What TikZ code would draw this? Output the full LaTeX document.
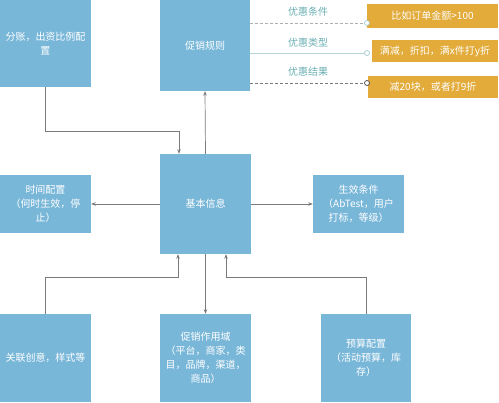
\documentclass[tikz,border=0pt]{standalone}
\usepackage{fontspec}
\setmainfont{Noto Sans CJK SC}
\usetikzlibrary{arrows.meta,calc}
\definecolor{boxblue}{HTML}{79B7D9}
\definecolor{boxorange}{HTML}{E2AB3A}
\definecolor{tagteal}{HTML}{6AAEB2}
\definecolor{linegray}{HTML}{7A7A7A}
\tikzset{
	bluebox/.style={fill=boxblue, text=white, font=\fontsize{10}{14}\selectfont, align=center, inner sep=0pt},
	orangebox/.style={fill=boxorange, text=white, font=\fontsize{10}{12}\selectfont, inner sep=0pt},
	tag/.style={text=tagteal, font=\fontsize{10}{12}\selectfont},
	link/.style={draw=linegray, line width=0.7pt, -{Stealth[length=4.5pt,width=3.5pt]}},
	dot/.style={circle, draw=#1, fill=white, line width=0.7pt, inner sep=0pt, minimum size=5pt}
}
\begin{document}
\begin{tikzpicture}[x=1pt, y=-1pt]
	\useasboundingbox (0,0) rectangle (499,403);
	
	\node[bluebox, minimum width=91pt, minimum height=87pt] (fenzhang) at (45.5,43.5) {分账，出资比例配\\置};
	\node[bluebox, minimum width=90pt, minimum height=91pt] (guize) at (205,45.5) {促销规则};
	\node[bluebox, minimum width=91pt, minimum height=100pt] (jiben) at (205.5,204) {基本信息};
	\node[bluebox, minimum width=91pt, minimum height=58pt] (shijian) at (45.5,204) {时间配置\\（何时生效，停\\止）};
	\node[bluebox, minimum width=91pt, minimum height=58pt] (shengxiao) at (358.5,204) {生效条件\\（AbTest，用户\\打标，等级）};
	\node[bluebox, minimum width=91pt, minimum height=88pt] (guanlian) at (45.5,358) {关联创意，样式等};
	\node[bluebox, minimum width=91pt, minimum height=88pt] (zuoyong) at (205.5,358) {促销作用域\\（平台，商家，类\\目，品牌，渠道，\\商品）};
	\node[bluebox, minimum width=90pt, minimum height=88pt] (yusuan) at (366,358) {预算配置\\（活动预算，库\\存）};
	
	\node[orangebox, minimum width=131pt, minimum height=24pt] (tiaojian) at (432.5,16) {比如订单金额>100};
	\node[orangebox, minimum width=126pt, minimum height=22pt] (leixing) at (435,51) {满减，折扣，满x件打y折};
	\node[orangebox, minimum width=130pt, minimum height=22pt] (jieguo) at (433,87) {减20块，或者打9折};
	
	\coordinate (c1) at (367,23);
	\coordinate (c2) at (367,53);
	\coordinate (c3) at (367,83);
	\draw[draw=linegray!60, line width=0.7pt, dash pattern=on 3pt off 2pt] (guize.east |- c1) -- (c1);
	\draw[draw=tagteal!50, line width=0.7pt] (guize.east |- c2) -- (c2);
	\draw[draw=linegray, line width=0.7pt, dash pattern=on 3pt off 2pt] (guize.east |- c3) -- (c3);
	\node[dot=tagteal!60] (d1) at (c1) {};
	\node[dot=tagteal!60] (d2) at (c2) {};
	\node[dot=black!70] (d3) at (c3) {};
	\node[tag] (t1) at (308,12) {优惠条件};
	\node[tag] (t2) at (308,43) {优惠类型};
	\node[tag] (t3) at (308,72) {优惠结果};
	
	\coordinate (b1) at (179,131);
	\coordinate (b2) at (178,277);
	\coordinate (b3) at (226,277);
	\draw[link] (fenzhang.south) |- (b1) -- (b1 |- jiben.north);
	\draw[link] (jiben.north) -- (guize.south);
	\draw[link] (jiben.west) -- (shijian.east);
	\draw[link] (jiben.east) -- (shengxiao.west);
	\draw[link] (jiben.south) -- (zuoyong.north);
	\draw[link] (guanlian.north) |- (b2) -- (b2 |- jiben.south);
	\draw[link] (yusuan.north) |- (b3) -- (b3 |- jiben.south);
\end{tikzpicture}
\end{document}
